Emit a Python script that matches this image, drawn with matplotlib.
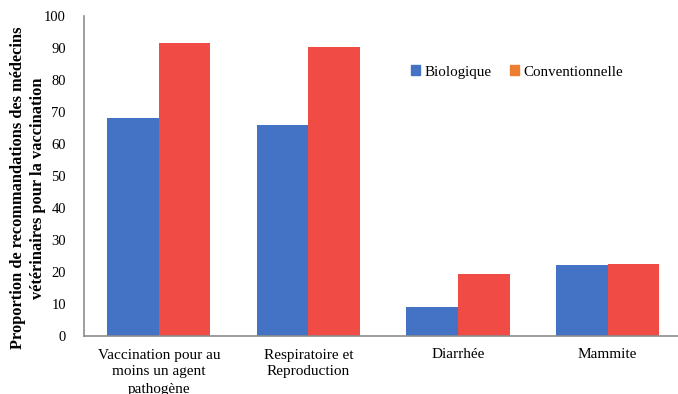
import numpy as np
import matplotlib
matplotlib.use('Agg')
import matplotlib.pyplot as plt
from matplotlib.patches import Patch

categories = ["Vaccination pour au\nmoins un agent\npathogène",
              "Respiratoire et\nReproduction",
              "Diarrhée",
              "Mammite"]
biologique = [68, 66, 9, 22.2]
conventionnelle = [91.5, 90.3, 19.4, 22.4]

plt.rcParams['font.family'] = ['Liberation Serif', 'DejaVu Serif']

fig = plt.figure(figsize=(6.78, 3.94), dpi=100)
ax = fig.add_axes([84/678, 58/394, 1 - 84/678, 320/394])

x = np.arange(len(categories))
w = 0.345
ax.bar(x - w/2, biologique, w, color="#4472C4")
ax.bar(x + w/2, conventionnelle, w, color="#F04C45")

ax.set_xlim(-0.5, 3.47)
ax.set_ylim(0, 100)
ax.set_yticks(np.arange(0, 101, 10))
ax.set_xticks(x)
ax.set_xticklabels(categories, fontsize=11, linespacing=1.4)
ax.tick_params(axis='y', labelsize=10.5, length=0, pad=13)
ax.tick_params(axis='x', length=0, pad=9)

for s in ["top", "right"]:
    ax.spines[s].set_visible(False)
for s in ["left", "bottom"]:
    ax.spines[s].set_color("#8c8c8c")
    ax.spines[s].set_linewidth(1.2)

# y title placed by hand, two bold lines
fig.text(28/678, 1 - 188/394,
         "Proportion de recommandations des médecins\nvétérinaires pour la vaccination",
         rotation=90, ha="center", va="center", multialignment="center",
         fontsize=11.8, fontweight="bold", linespacing=1.4)

handles = [Patch(color="#4472C4", label="Biologique"),
           Patch(color="#ED7D31", label="Conventionnelle")]
leg = ax.legend(handles=handles, loc="center", frameon=False,
                ncol=2, fontsize=10.8, handlelength=0.6, handleheight=0.6, handletextpad=0.3,
                columnspacing=1.2)
leg.set_bbox_to_anchor(((517 - 84) / (678 - 84), (336 - 72) / 320), transform=ax.transAxes)

plt.savefig("out.png", dpi=100)
